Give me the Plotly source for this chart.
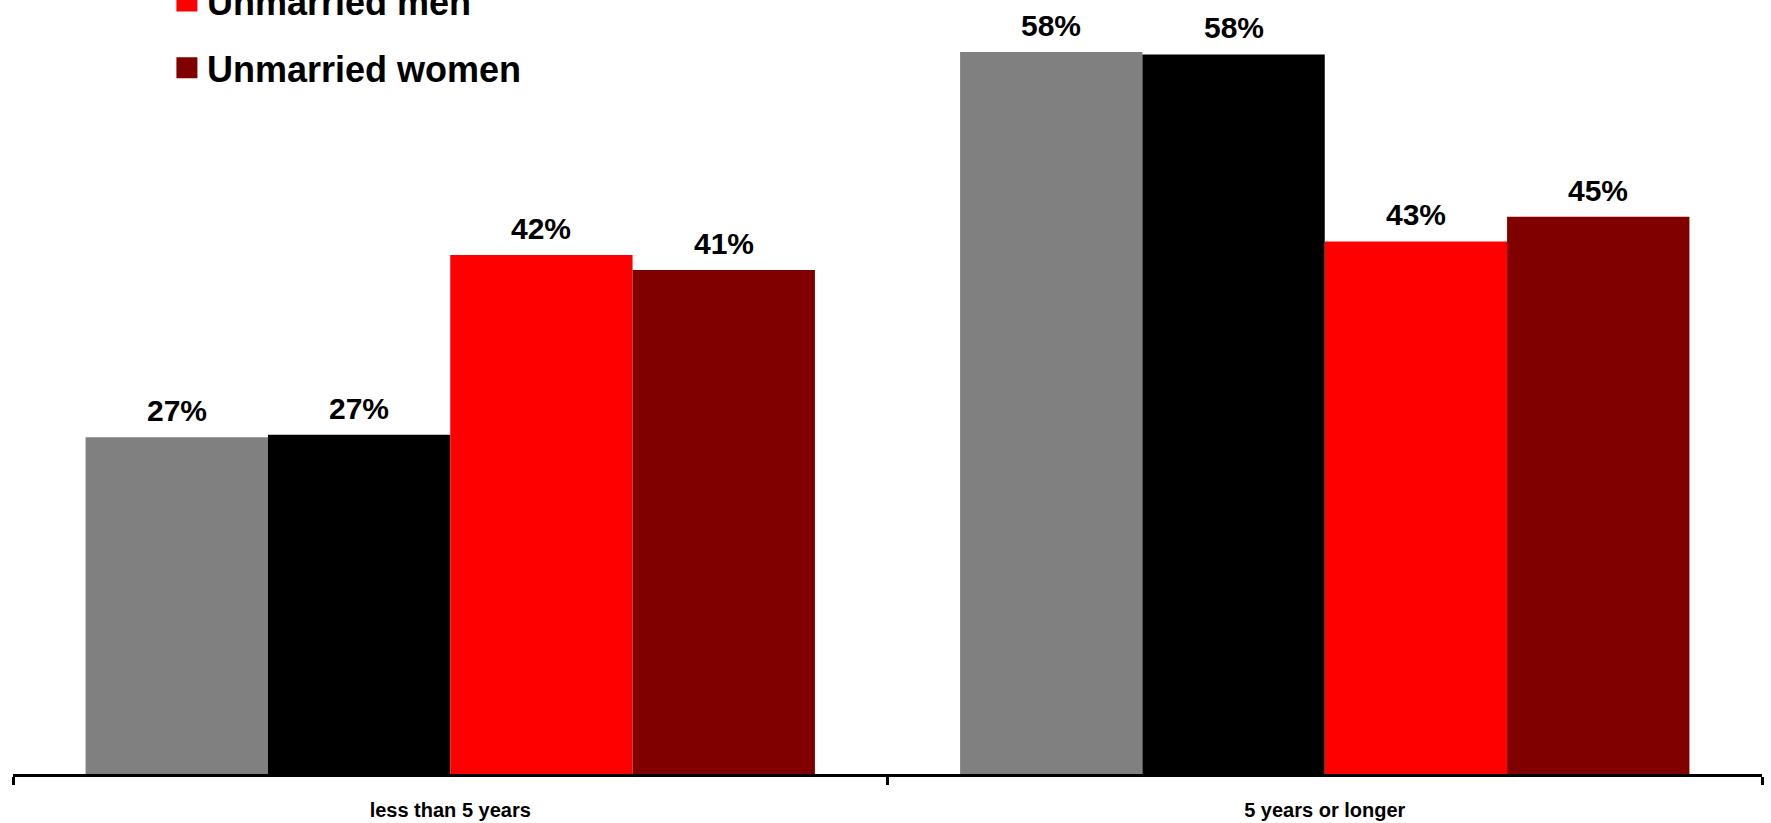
import plotly.graph_objects as go

# Duration categories and the four groups compared within each
categories = ["less than 5 years", "5 years or longer"]
series_names = ["Married men", "Married women", "Unmarried men", "Unmarried women"]

married_men = [27.2, 58.3]
married_women = [27.4, 58.1]
unmarried_men = [41.9, 43.0]
unmarried_women = [40.7, 45.0]

series_values = [married_men, married_women, unmarried_men, unmarried_women]
colors = ["#808080", "#000000", "#FF0000", "#800000"]

FONT = "Liberation Sans, Arial, sans-serif"
BARGAP = 0.166
n_series = len(series_names)
bar_w = (1 - BARGAP) / n_series

fig = go.Figure()

for name, vals, col in zip(series_names, series_values, colors):
    fig.add_trace(go.Bar(
        x=categories, y=vals, name=name,
        marker=dict(color=col, line=dict(width=0)),
        showlegend=False, hoverinfo="skip",
    ))

# legend swatches (square markers, larger than the default bar swatch)
for name, col in zip(series_names, colors):
    fig.add_trace(go.Scatter(
        x=[None], y=[None], mode="markers", name=name,
        legendgroup=name,
        marker=dict(symbol="square", size=16, color=col,
                    line=dict(color=col, width=5)),
    ))

# value labels above every bar
annotations = []
for i, vals in enumerate(series_values):
    offset = (i - (n_series - 1) / 2) * bar_w
    for j, v in enumerate(vals):
        annotations.append(dict(
            x=j + offset, y=v, xref="x", yref="y",
            text=f"{v:.0f}%", showarrow=False,
            yanchor="bottom", yshift=8,
            font=dict(family=FONT, size=30, color="black", weight="bold"),
        ))

fig.update_layout(
    width=1771, height=823,
    paper_bgcolor="white", plot_bgcolor="white",
    margin=dict(l=13, r=9, t=0, b=49, autoexpand=False),
    barmode="group", bargap=BARGAP, bargroupgap=0,
    annotations=annotations,
    showlegend=True,
    legend=dict(
        x=0.088, y=1.21, xanchor="left", yanchor="top",
        bgcolor="rgba(0,0,0,0)",
        font=dict(family=FONT, size=36, color="black", weight="bold"),
        tracegroupgap=17,
    ),
    xaxis=dict(
        type="category",
        showline=True, linecolor="black", linewidth=3,
        ticks="outside", tickson="boundaries", ticklen=8, tickwidth=3,
        tickcolor="black", showgrid=False, zeroline=False,
        tickfont=dict(family=FONT, size=20, color="black", weight="bold"),
        ticklabelstandoff=16,
    ),
    yaxis=dict(visible=False, range=[0, 62.5], showgrid=False, zeroline=False),
)

fig.write_html("out.html")
